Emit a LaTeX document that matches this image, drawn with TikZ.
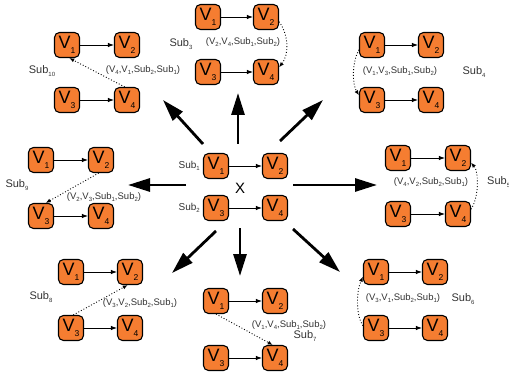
\documentclass[tikz,border=0pt]{standalone}
\usepackage{fontspec}
\setmainfont{Liberation Sans}
\usetikzlibrary{arrows.meta}
\definecolor{boxorange}{HTML}{F57D31}
\definecolor{labgray}{HTML}{333333}
\newcommand{\vlab}[1]{V\raisebox{-5pt}{\fontsize{8.5}{8.5}\selectfont #1}}
\newcommand{\lsub}[1]{\raisebox{-2.5pt}{\fontsize{6}{6}\selectfont #1}}
\newcommand{\vgroup}[5]{%
  \node[vbox] (#1a) at (#2,#3) {\vlab{1}};
  \node[vbox] (#1b) at ({#2+#4},#3) {\vlab{2}};
  \node[vbox] (#1c) at (#2,{#3+#5}) {\vlab{3}};
  \node[vbox] (#1d) at ({#2+#4},{#3+#5}) {\vlab{4}};
  \draw[inarrow] (#1a) -- (#1b);
  \draw[inarrow] (#1c) -- (#1d);}
\begin{document}
\begin{tikzpicture}[x=1pt,y=-1pt,
  vbox/.style={draw, line width=1.1pt, fill=boxorange, rounded corners=5pt,
    minimum size=25pt, inner sep=0pt, font=\fontsize{18}{18}\selectfont},
  inarrow/.style={-{Latex[length=6pt,width=4.5pt]}, line width=0.9pt},
  dotarrow/.style={-{Latex[length=5pt,width=4pt]}, line width=0.9pt, dotted},
  bigarrow/.style={-{Triangle[length=22pt,width=13pt]}, line width=2.8pt},
  sublab/.style={font=\fontsize{11}{11}\selectfont, text=labgray, inner sep=0pt},
  tuplab/.style={font=\fontsize{9.5}{9.5}\selectfont, text=labgray, inner sep=0pt},
]
\useasboundingbox (0,0) rectangle (509,377);

% centre
\vgroup{c}{216}{166}{59}{42}
\node[sublab, anchor=east, font=\fontsize{10}{10}\selectfont] (s1) at (200,166) {Sub\lsub{1}};
\node[sublab, anchor=east, font=\fontsize{10}{10}\selectfont] (s2) at (200,208) {Sub\lsub{2}};
\node[font=\fontsize{15}{15}\selectfont, inner sep=0pt] (x) at (240,188) {X};

% Sub3 (top)
\vgroup{g3}{208}{17}{58}{55}
\node[sublab] (l3) at (181,44) {Sub\lsub{3}};
\node[tuplab] (t3) at (243,42) {(V\lsub{2},V\lsub{4},Sub\lsub{1},Sub\lsub{2})};
\draw[dotarrow] (g3b.-20) .. controls (289,35) and (289,55) .. (g3d.20);

% Sub10 (top left)
\vgroup{g10}{67}{45}{60}{55}
\node[sublab] (l10) at (42,71) {Sub\lsub{10}};
\node[tuplab] (t10) at (143,70) {(V\lsub{4},V\lsub{1},Sub\lsub{2},Sub\lsub{1})};
\draw[dotarrow] (g10d.100) -- (g10a.-80);

% Sub4 (top right)
\vgroup{g4}{372}{45}{59}{55}
\node[sublab] (l4) at (474,72) {Sub\lsub{4}};
\node[tuplab] (t4) at (400,71) {(V\lsub{1},V\lsub{3},Sub\lsub{1},Sub\lsub{2})};
\draw[dotarrow] (g4a.200) .. controls (352,62) and (352,84) .. (g4c.160);

% Sub9 (left)
\vgroup{g9}{41}{160}{60}{56}
\node[sublab] (l9) at (17,185) {Sub\lsub{9}};
\node[tuplab] (t9) at (104,197) {(V\lsub{2},V\lsub{3},Sub\lsub{1},Sub\lsub{2})};
\draw[dotarrow] (g9b.-100) -- (g9c.70);

% Sub5 (right)
\vgroup{g5}{398}{158}{60}{56}
\node[sublab, anchor=west] (l5) at (487,182) {Sub\lsub{5}};
\node[tuplab] (t5) at (431,182) {(V\lsub{4},V\lsub{2},Sub\lsub{2},Sub\lsub{1})};
\draw[dotarrow] (g5d.20) .. controls (479,197) and (479,172) .. (g5b.-20);

% Sub8 (bottom left)
\vgroup{g8}{71}{272}{59}{56}
\node[sublab] (l8) at (41,297) {Sub\lsub{8}};
\node[tuplab] (t8) at (140,303) {(V\lsub{3},V\lsub{2},Sub\lsub{2},Sub\lsub{1})};
\draw[dotarrow] (g8c.80) -- (g8b.-100);

% Sub7 (bottom)
\vgroup{g7}{216}{301}{59}{57}
\node[sublab] (l7) at (305,336) {Sub\lsub{7}};
\node[tuplab] (t7) at (289,325) {(V\lsub{1},V\lsub{4},Sub\lsub{1},Sub\lsub{2})};
\draw[dotarrow] (g7a.-90) -- (g7d.100);

% Sub6 (bottom right)
\vgroup{g6}{376}{272}{59}{56}
\node[sublab] (l6) at (463,299) {Sub\lsub{6}};
\node[tuplab] (t6) at (403,298) {(V\lsub{3},V\lsub{1},Sub\lsub{2},Sub\lsub{1})};
\draw[dotarrow] (g6c.170) .. controls (356,316) and (356,292) .. (g6a.-160);

% big arrows
\coordinate (aul0) at (203,144); \coordinate (aul1) at (163,100);
\coordinate (au0) at (238,144);  \coordinate (au1) at (238,93);
\coordinate (aur0) at (280,141); \coordinate (aur1) at (323,100);
\coordinate (al0) at (186,185);  \coordinate (al1) at (128,185);
\coordinate (ar0) at (293,185);  \coordinate (ar1) at (377,185);
\coordinate (adl0) at (216,231); \coordinate (adl1) at (172,273);
\coordinate (ad0) at (240,228);  \coordinate (ad1) at (240,276);
\coordinate (adr0) at (293,229); \coordinate (adr1) at (340,272);
\foreach \a in {aul,au,aur,al,ar,adl,ad,adr}
  \draw[bigarrow] (\a0) -- (\a1);
\end{tikzpicture}
\end{document}
